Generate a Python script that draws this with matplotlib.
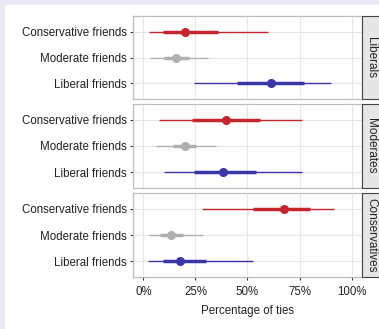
import matplotlib
matplotlib.use("Agg")
import matplotlib.pyplot as plt
from matplotlib.patches import Rectangle

plt.rcParams['font.family'] = ['Liberation Sans', 'DejaVu Sans']

# rows within each panel, bottom to top
friends = ['Liberal friends', 'Moderate friends', 'Conservative friends']
groups = ['Liberals', 'Moderates', 'Conservatives']
colors = ['#3b35a8', '#b0b0b0', '#c4262e']

# percentage of ties: point estimate, inner interval, outer interval
est = {
    'Liberals':      [61.5, 15.6, 20.0],
    'Moderates':     [38.0, 20.0, 39.7],
    'Conservatives': [17.7, 13.2, 67.5],
}
inner_lo = {
    'Liberals':      [44.8, 9.7, 9.4],
    'Moderates':     [24.5, 14.0, 23.3],
    'Conservatives': [9.2, 8.0, 52.5],
}
inner_hi = {
    'Liberals':      [77.0, 21.7, 36.0],
    'Moderates':     [54.0, 25.5, 56.0],
    'Conservatives': [30.0, 19.0, 80.0],
}
outer_lo = {
    'Liberals':      [24.4, 3.0, 2.5],
    'Moderates':     [9.7, 6.0, 7.3],
    'Conservatives': [2.0, 2.5, 28.0],
}
outer_hi = {
    'Liberals':      [90.0, 31.0, 60.0],
    'Moderates':     [76.4, 35.0, 76.4],
    'Conservatives': [52.5, 28.5, 91.4],
}

W, H = 379, 329
fig = plt.figure(figsize=(W / 100, H / 100), dpi=100)
fig.patch.set_facecolor('white')

# lavender frame at top and left
fig.patches.append(Rectangle((0, 1 - 5 / H), 1, 5 / H, transform=fig.transFigure,
                             facecolor='#e9e9f6', edgecolor='none', zorder=0))
fig.patches.append(Rectangle((0, 0), 5 / W, 1, transform=fig.transFigure,
                             facecolor='#e9e9f6', edgecolor='none', zorder=0))

panel_px = [(16, 99), (104, 188), (193, 277)]
left_px, right_px = 133, 362
fs = 8.3

for k, (g, (top, bot)) in enumerate(zip(groups, panel_px)):
    ax = fig.add_axes([left_px / W, 1 - bot / H, (right_px - left_px) / W, (bot - top) / H])
    ypos = range(1, len(friends) + 1)
    for i, y in enumerate(ypos):
        ax.plot([outer_lo[g][i], outer_hi[g][i]], [y, y], color=colors[i], lw=1.0,
                solid_capstyle='butt', zorder=3)
        ax.plot([inner_lo[g][i], inner_hi[g][i]], [y, y], color=colors[i], lw=2.5,
                solid_capstyle='butt', zorder=4)
        ax.plot(est[g][i], y, 'o', color=colors[i], ms=5.5, zorder=5)
    ax.set_xlim(-5, 105)
    ax.set_ylim(0.4, 3.6)
    ax.set_yticks(list(ypos))
    ax.set_yticklabels(friends, fontsize=fs, color='#222222')
    ax.set_xticks([0, 25, 50, 75, 100])
    ax.grid(True, color='#e6e6e6', lw=0.8, zorder=0)
    ax.set_axisbelow(True)
    for s in ax.spines.values():
        s.set_color('#bdbdbd')
        s.set_linewidth(0.9)
    ax.tick_params(axis='both', length=2.5, width=0.8, color='#333333', pad=2)
    if k < 2:
        ax.tick_params(axis='x', bottom=False, labelbottom=False)
    else:
        ax.tick_params(axis='x', pad=4)
        ax.set_xticklabels(['0%', '25%', '50%', '75%', '100%'], fontsize=fs, color='#222222')
        ax.set_xlabel('Percentage of ties', fontsize=fs, color='#222222', labelpad=5)

    # facet strip on the right
    fig.patches.append(Rectangle((right_px / W, 1 - bot / H), 20 / W, (bot - top) / H,
                                 transform=fig.transFigure, facecolor='#e6e6e6',
                                 edgecolor='#444444', lw=0.8, zorder=2))
    fig.text(371 / W, 1 - (top + bot) / 2 / H, g, rotation=-90, fontsize=fs + 0.2,
             color='#222222', ha='center', va='center')

fig.savefig('out.png', dpi=100)
